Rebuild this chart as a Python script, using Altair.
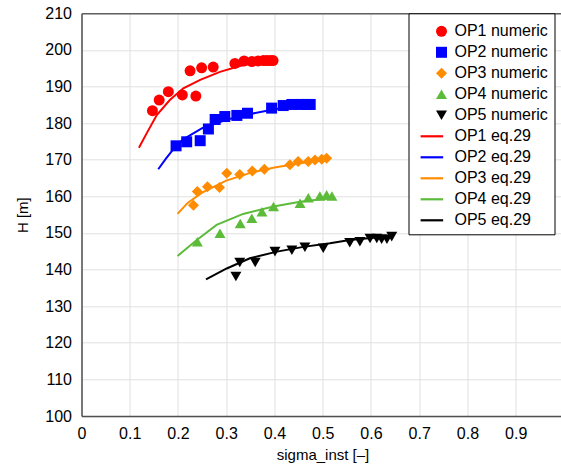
import altair as alt
import pandas as pd

# ---- numeric points ----
op1_x = [0.147, 0.161, 0.180, 0.209, 0.237, 0.225, 0.249, 0.273, 0.318, 0.337, 0.353, 0.366, 0.377, 0.384, 0.391, 0.397]
op1_y = [183.4, 186.3, 188.6, 187.7, 187.4, 194.3, 195.1, 195.3, 196.3, 197.0, 196.8, 197.0, 197.1, 197.1, 197.1, 197.1]

op2_x = [0.196, 0.218, 0.246, 0.263, 0.277, 0.297, 0.322, 0.344, 0.394, 0.418, 0.436, 0.453, 0.465, 0.474]
op2_y = [173.8, 174.9, 175.2, 178.4, 181.0, 181.8, 182.1, 182.7, 184.1, 184.8, 185.1, 185.1, 185.1, 185.1]

op3_x = [0.232, 0.240, 0.261, 0.286, 0.301, 0.328, 0.354, 0.379, 0.432, 0.449, 0.470, 0.484, 0.498, 0.508]
op3_y = [157.6, 161.3, 162.6, 162.4, 166.3, 166.0, 166.9, 167.4, 168.6, 169.5, 169.5, 169.9, 170.1, 170.4]

op4_x = [0.240, 0.287, 0.329, 0.353, 0.374, 0.398, 0.453, 0.470, 0.494, 0.508, 0.519]
op4_y = [147.6, 149.9, 152.6, 154.0, 155.8, 157.2, 158.1, 159.6, 160.1, 160.4, 160.1]

op5_x = [0.320, 0.328, 0.360, 0.401, 0.436, 0.463, 0.501, 0.556, 0.577, 0.598, 0.612, 0.622, 0.633, 0.643]
op5_y = [138.1, 141.9, 141.9, 144.9, 145.3, 146.1, 145.8, 147.3, 147.6, 148.5, 148.5, 148.3, 148.3, 149.0]

# ---- eq.29 curves ----
eq1_x = [0.119, 0.135, 0.156, 0.183, 0.211, 0.246, 0.287, 0.328, 0.370, 0.394]
eq1_y = [173.3, 177.2, 182.2, 186.3, 189.5, 191.8, 194.0, 195.6, 196.8, 197.2]

eq2_x = [0.159, 0.175, 0.190, 0.210, 0.250, 0.300, 0.350, 0.400, 0.440, 0.475]
eq2_y = [167.4, 170.3, 172.8, 175.5, 178.6, 180.9, 182.5, 183.8, 184.6, 185.2]

eq3_x = [0.199, 0.220, 0.250, 0.300, 0.350, 0.400, 0.450, 0.515]
eq3_y = [155.2, 158.2, 161.0, 164.3, 166.4, 167.9, 169.0, 170.2]

eq4_x = [0.199, 0.239, 0.280, 0.335, 0.398, 0.453, 0.515]
eq4_y = [143.7, 148.1, 152.2, 155.2, 157.2, 158.5, 159.5]

eq5_x = [0.258, 0.301, 0.349, 0.405, 0.460, 0.515, 0.556, 0.600, 0.645]
eq5_y = [137.3, 140.3, 143.1, 144.9, 146.2, 147.2, 148.1, 148.6, 149.2]

num_labels = ["OP1 numeric", "OP2 numeric", "OP3 numeric", "OP4 numeric", "OP5 numeric"]
eq_labels = ["OP1 eq.29", "OP2 eq.29", "OP3 eq.29", "OP4 eq.29", "OP5 eq.29"]
colors = ["#ff0000", "#0000ff", "#ff8c00", "#5dbb3a", "#000000"]
line_sym = "M-3.8,-0.2H0.3V0.2H-3.8Z"
shapes = ["circle", "square", "diamond", "triangle-up", "triangle-down"] + [line_sym] * 5

x_ticks = [0, 0.1, 0.2, 0.3, 0.4, 0.5, 0.6, 0.7, 0.8, 0.9]
y_ticks = [100, 110, 120, 130, 140, 150, 160, 170, 180, 190, 200, 210]

pts = []
for lab, xs, ys in zip(num_labels, [op1_x, op2_x, op3_x, op4_x, op5_x], [op1_y, op2_y, op3_y, op4_y, op5_y]):
    for a, b in zip(xs, ys):
        pts.append({"sigma": a, "H": b, "series": lab})
pts = pd.DataFrame(pts)

crv = []
for lab, xs, ys in zip(eq_labels, [eq1_x, eq2_x, eq3_x, eq4_x, eq5_x], [eq1_y, eq2_y, eq3_y, eq4_y, eq5_y]):
    for a, b in zip(xs, ys):
        crv.append({"sigma": a, "H": b, "series": lab})
crv = pd.DataFrame(crv)

FONT = "Liberation Sans"
xscale = alt.Scale(domain=[0, 0.9938], nice=False, zero=False)
yscale = alt.Scale(domain=[100, 210], nice=False, zero=False)
all_labels = num_labels + eq_labels
cscale = alt.Scale(domain=all_labels, range=colors + colors)
sscale = alt.Scale(domain=all_labels, range=shapes)

legend = alt.Legend(orient="none", legendX=327, legendY=0, title=" ",
                    titleFontSize=4, titlePadding=0, padding=6,
                    symbolOffset=19, labelOffset=5, labelFontSize=16,
                    labelFont=FONT, labelColor="black", rowPadding=5,
                    fillColor="white", strokeColor="black", symbolSize=121,
                    symbolStrokeWidth=0, symbolOpacity=1)

yaxis = alt.Axis(values=y_ticks, title="H [m]", grid=True, gridColor="#e0e0e0",
                 gridWidth=1, ticks=False, labelPadding=10, labelFlush=False,
                 labelOverlap=False, domainColor="#505050",
                 domainWidth=1.5, titlePadding=14)

lines = alt.Chart(crv).mark_line(strokeWidth=2).encode(
    x=alt.X("sigma:Q", scale=xscale,
            axis=alt.Axis(orient="top", labels=False, ticks=False, grid=False, title=None,
                          domain=True, domainColor="#606060", domainWidth=1.5)),
    y=alt.Y("H:Q", scale=yscale, axis=yaxis),
    color=alt.Color("series:N", scale=cscale, legend=legend),
)

points = alt.Chart(pts).mark_point(filled=True, size=121, opacity=1).encode(
    x=alt.X("sigma:Q", scale=xscale,
            axis=alt.Axis(values=x_ticks, format="~g", title="sigma_inst [–]", grid=True,
                          gridColor="#e0e0e0", gridWidth=1, ticks=False, labelPadding=9,
                          labelFlush=False, labelOverlap=False,
                          domainColor="#505050", domainWidth=1.5, titlePadding=6, titleX=241)),
    y=alt.Y("H:Q", scale=yscale, axis=yaxis),
    color=alt.Color("series:N", scale=cscale, legend=legend),
    shape=alt.Shape("series:N", scale=sscale, legend=legend),
)

chart = alt.layer(lines, points).resolve_axis(x="independent").properties(
    width=479.5, height=402.7,
    autosize=alt.AutoSizeParams(type="none"),
    padding={"left": 81.5, "top": 13.3, "right": 0, "bottom": 50},
).configure_view(stroke=None).configure_axis(
    labelFont=FONT, labelFontSize=16, labelColor="black",
    titleFont=FONT, titleFontSize=15, titleFontWeight="normal", titleColor="black",
)

chart.save("out.html", embed_options={"renderer": "svg", "actions": False})
